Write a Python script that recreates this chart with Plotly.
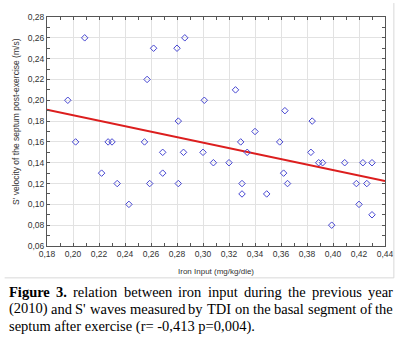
import plotly.graph_objects as go

iron_input = [0.196, 0.209, 0.257, 0.262, 0.280, 0.286, 0.281, 0.301, 0.325, 0.363,
              0.384, 0.340, 0.329, 0.359, 0.202, 0.227, 0.230, 0.255, 0.269, 0.285,
              0.300, 0.222, 0.234, 0.259, 0.269, 0.281, 0.243, 0.308, 0.320, 0.334,
              0.330, 0.330, 0.349, 0.362, 0.365, 0.383, 0.389, 0.392, 0.399, 0.409,
              0.418, 0.420, 0.423, 0.426, 0.430, 0.430]
s_velocity = [0.20, 0.26, 0.22, 0.25, 0.25, 0.26, 0.18, 0.20, 0.21, 0.19,
              0.18, 0.17, 0.16, 0.16, 0.16, 0.16, 0.16, 0.16, 0.15, 0.15,
              0.15, 0.13, 0.12, 0.12, 0.13, 0.12, 0.10, 0.14, 0.14, 0.15,
              0.12, 0.11, 0.11, 0.13, 0.12, 0.15, 0.14, 0.14, 0.08, 0.14,
              0.12, 0.10, 0.14, 0.12, 0.14, 0.09]
fit_x = [0.18, 0.44]
fit_y = [0.191, 0.1225]

x_title = "Iron Input (mg/kg/die)"
y_title = "S' velocity of the septum post-exercise (m/s)"
caption_lines = [
    "Figure 3. relation between iron input during the previous year",
    "(2010) and S' waves measured by TDI on the basal segment of the",
    "septum after exercise (r= -0,413 p=0,004).",
]

# Times metrics (1/1000 em) used only to lay out justified caption words
TW = {' ': 250, 'a': 444, 'b': 500, 'c': 444, 'd': 500, 'e': 444, 'f': 333, 'g': 500,
      'h': 500, 'i': 278, 'j': 278, 'k': 500, 'l': 278, 'm': 778, 'n': 500, 'o': 500,
      'p': 500, 'q': 500, 'r': 333, 's': 389, 't': 278, 'u': 500, 'v': 500, 'w': 722,
      'x': 500, 'y': 500, 'z': 444, '(': 333, ')': 333, "'": 180, '.': 250, ',': 250,
      '-': 333, '=': 564, 'S': 556, 'T': 611, 'D': 722, 'I': 333, 'F': 556}
TWB = {'F': 611, 'i': 278, 'g': 500, 'u': 556, 'r': 444, 'e': 444, '3': 500, '.': 250}


def word_w(w, size, bold=False):
    tab = TWB if bold else TW
    return sum(tab.get(c, TW.get(c, 500)) for c in w) * size / 1000.0


fig = go.Figure()
fig.add_trace(go.Scatter(x=fit_x, y=fit_y, mode="lines",
                         line=dict(color="rgb(220,30,30)", width=2), hoverinfo="skip"))
fig.add_trace(go.Scatter(x=iron_input, y=s_velocity, mode="markers",
                         marker=dict(symbol="diamond-open", size=5,
                                     color="rgb(70,70,210)", line=dict(width=1))))

axis_common = dict(showgrid=True, gridcolor="#e2e2e2", gridwidth=1,
                   showline=True, linecolor="#555", linewidth=1, mirror="ticks",
                   ticks="inside", ticklen=3, tickcolor="#555", tickformat=".2f",
                   dtick=0.02, zeroline=False,
                   tickfont=dict(family="Liberation Sans", size=8.5, color="#333"),
                   minor=dict(ticks="inside", ticklen=3, tickcolor="#555", dtick=0.01,
                              showgrid=False))

PL, PT, PW, PH = 47, 16, 343, 230
fig.update_layout(
    width=406, height=337, showlegend=False,
    margin=dict(l=PL, r=406 - PL - PW, t=PT, b=337 - PT - PH),
    paper_bgcolor="white", plot_bgcolor="white",
    separators=",.",
    xaxis=dict(range=[0.18, 0.44], tick0=0.18, **axis_common),
    yaxis=dict(range=[0.06, 0.28], tick0=0.06, **axis_common),
)


def px(xp):
    return (xp - PL) / PW


def py(yp):
    return 1 - (yp - PT) / PH


fig.add_annotation(text=x_title, xref="paper", yref="paper", x=px(218), y=py(272),
                   xanchor="center", yanchor="middle", showarrow=False,
                   font=dict(family="Liberation Sans", size=8, color="#333"))
fig.add_annotation(text=y_title, xref="paper", yref="paper", x=px(15), y=py(121),
                   xanchor="center", yanchor="middle", textangle=-90, showarrow=False,
                   font=dict(family="Liberation Sans", size=8.5, color="#333"))

FS = 14.5
left_x, right_x = 7, 397
line_y = [292, 309, 327]
for li, (txt, yp) in enumerate(zip(caption_lines, line_y)):
    if li == len(caption_lines) - 1:
        fig.add_annotation(text=txt, xref="paper", yref="paper",
                           x=px(left_x - 1), y=py(yp), xanchor="left", yanchor="middle",
                           showarrow=False,
                           font=dict(family="Liberation Serif", size=FS, color="black"))
        continue
    words = txt.split(" ")
    bolds = [li == 0 and wi < 2 for wi in range(len(words))]
    widths = [word_w(w, FS, b) for w, b in zip(words, bolds)]
    gap = (right_x - left_x - sum(widths)) / (len(words) - 1)
    xcur = left_x
    for w, b, wd in zip(words, bolds, widths):
        fig.add_annotation(text=f"<b>{w}</b>" if b else w, xref="paper", yref="paper",
                           x=px(xcur - 1), y=py(yp), xanchor="left", yanchor="middle",
                           showarrow=False,
                           font=dict(family="Liberation Serif", size=FS, color="black"))
        xcur += wd + gap

# panel border lines
fig.add_shape(type="line", xref="paper", yref="paper",
              x0=px(399), x1=px(399), y0=py(278), y1=py(2),
              line=dict(color="#d8d8d8", width=1))
fig.add_shape(type="line", xref="paper", yref="paper",
              x0=px(4), x1=px(399), y0=py(278), y1=py(278),
              line=dict(color="#d8d8d8", width=1))

fig.write_html("out.html")
